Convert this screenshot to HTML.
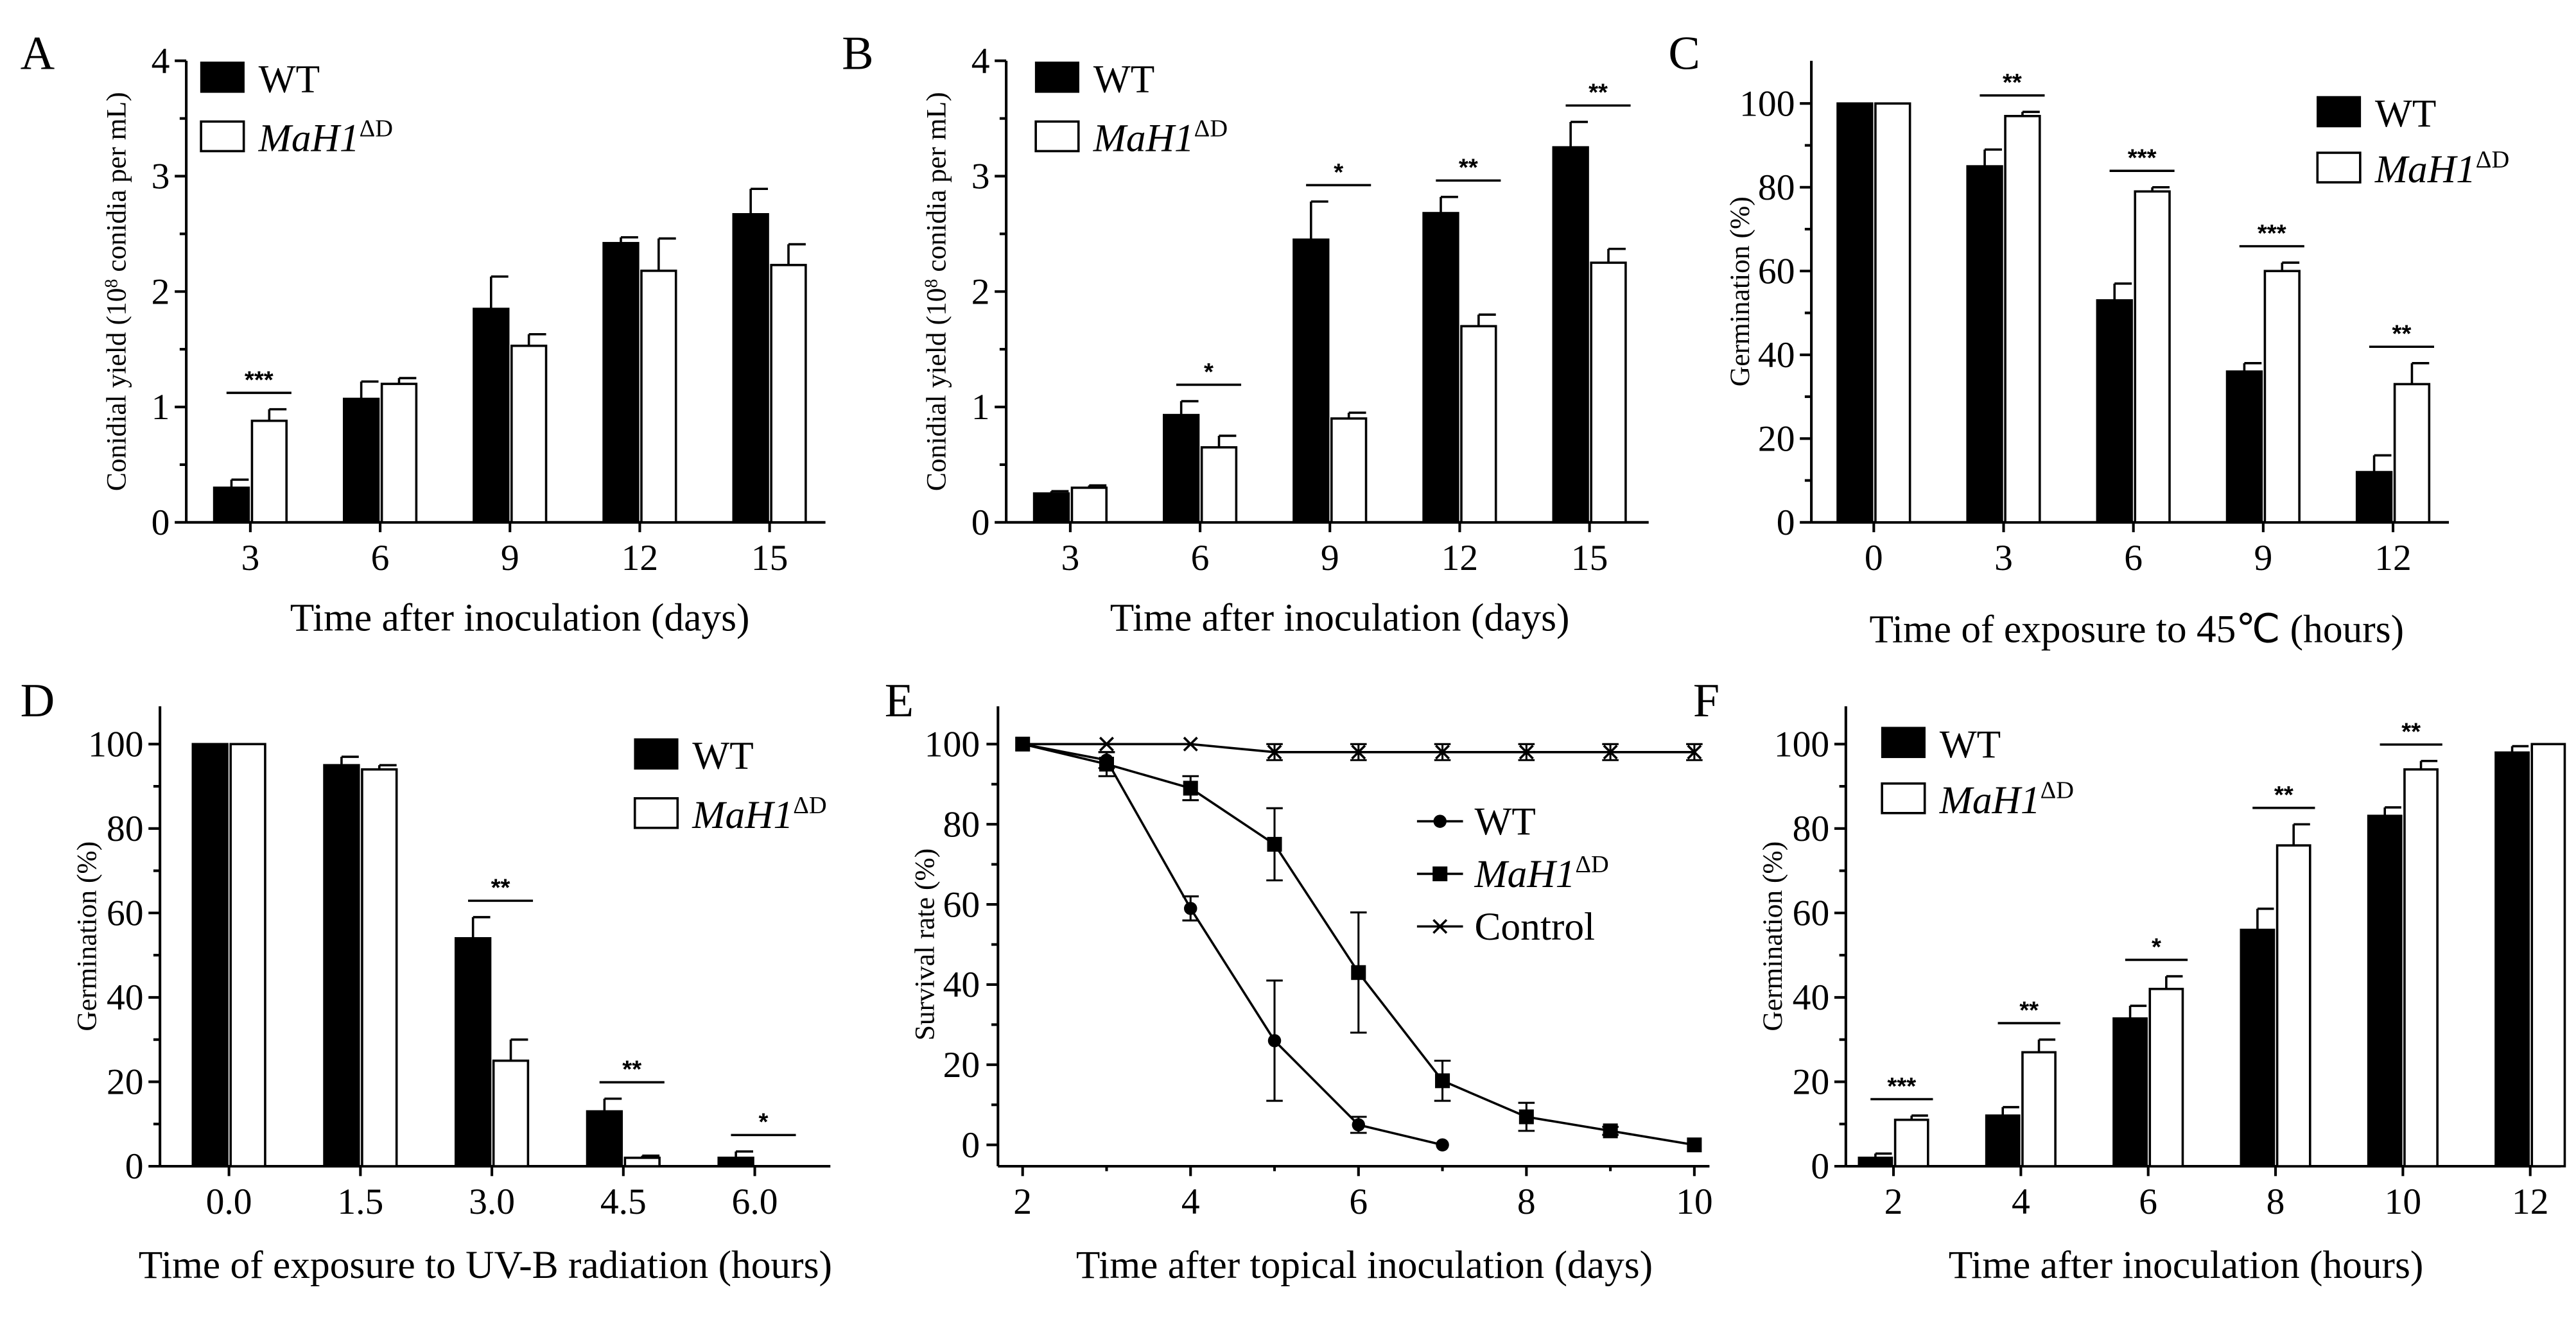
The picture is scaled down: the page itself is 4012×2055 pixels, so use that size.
<!DOCTYPE html>
<html><head><meta charset="utf-8"><style>
html,body{margin:0;padding:0;background:#fff}
svg{display:block}
text{fill:#000}
.t{font-family:"Liberation Serif",serif;font-size:22.5px}
.xt{font-family:"Liberation Serif",serif;font-size:24px}
.yt{font-family:"Liberation Serif",serif;font-size:17px}
.pl{font-family:"Liberation Serif",serif;font-size:29px}
.lg{font-family:"Liberation Serif",serif;font-size:24px}
.st{font-family:"Liberation Sans",sans-serif;font-size:15px;font-weight:bold}
</style></head><body>
<svg id="fig" width="4012" height="2055" viewBox="0 0 1567 803" xmlns="http://www.w3.org/2000/svg"></svg>
<script>
// Panel A
const aCats=["3","6","9","12","15"];
const aWT=[0.3,1.07,1.85,2.42,2.67];
const aWTe=[0.07,0.15,0.28,0.05,0.22];
const aMu=[0.88,1.2,1.53,2.18,2.23];
const aMue=[0.1,0.05,0.1,0.28,0.18];
const aSig=["***","","","",""];
const aTicks=[0,1,2,3,4];
// Panel B
const bCats=["3","6","9","12","15"];
const bWT=[0.25,0.93,2.45,2.68,3.25];
const bWTe=[0.02,0.12,0.33,0.14,0.22];
const bMu=[0.3,0.65,0.9,1.7,2.25];
const bMue=[0.02,0.1,0.05,0.1,0.12];
const bSig=["","*","*","**","**"];
// Panel C
const cCats=["0","3","6","9","12"];
const cWT=[100,85,53,36,12];
const cWTe=[0,4,4,2,4];
const cMu=[100,97,79,60,33];
const cMue=[0,1,1,2,5];
const cSig=["","**","***","***","**"];
const pctTicks=[0,20,40,60,80,100];
// Panel D
const dCats=["0.0","1.5","3.0","4.5","6.0"];
const dWT=[100,95,54,13,2];
const dWTe=[0,2,5,3,1.5];
const dMu=[100,94,25,2,0];
const dMue=[0,1,5,0.5,0];
const dSig=["","","**","**","*"];
// Panel E
const eX=[2,3,4,5,6,7,8,9,10];
const eWT=[100,96,59,26,5,0];
const eWTe=[0,2,3,15,2,0];
const eMu=[100,95,89,75,43,16,7,3.5,0];
const eMue=[0,3,3,9,15,5,3.5,1,0];
const eCtl=[100,100,100,98,98,98,98,98,98];
const eCtle=[0,0,0,2,2,2,2,2,2];
const eXTicks=[2,4,6,8,10];
// Panel F
const fCats=["2","4","6","8","10","12"];
const fWT=[2,12,35,56,83,98];
const fWTe=[1,2,3,5,2,1.5];
const fMu=[11,27,42,76,94,100];
const fMue=[1,3,3,5,2,0];
const fSig=["***","**","*","**","**",""];

const S=document.getElementById('fig');
const NS="http://www.w3.org/2000/svg";
function el(tag,at,parent,txt){const e=document.createElementNS(NS,tag);for(const k in at)e.setAttribute(k,at[k]);if(txt!==undefined)e.textContent=txt;(parent||S).appendChild(e);return e;}
function line(g,x1,y1,x2,y2,w){return el('line',{x1,y1,x2,y2,stroke:'#000','stroke-width':w||1.6},g);}
function legendMu(g,x,y){const t=el('text',{x,y,class:'lg'},g);el('tspan',{'font-style':'italic'},t,'MaH1');el('tspan',{dy:-9,'font-size':15},t,'ΔD');return t;}

function barPanel(o){
  const g=el('g',{});
  
  
  const y=v=>o.y0-(v/o.ymax)*(o.y0-o.y1);
  const xc=i=>o.xs+i*o.dx;
  line(g,o.x0,o.y0,o.x0,o.ytop);
  line(g,o.x0,o.y0,o.x1,o.y0);
  o.ticks.forEach((t,k)=>{line(g,o.x0-7,y(t),o.x0,y(t));
    if(k<o.ticks.length-1){const m=(t+o.ticks[k+1])/2;line(g,o.x0-4,y(m),o.x0,y(m));}
    const tt=el('text',{x:o.x0-10,y:y(t)+7.5,class:'t','text-anchor':'end'},g,t);});
  o.cats.forEach((c,i)=>{line(g,xc(i),o.y0,xc(i),o.y0+6);const tt=el('text',{x:xc(i),y:o.y0+29,class:'t','text-anchor':'middle'},g,c);});
  const bw=o.bw;
  o.cats.forEach((c,i)=>{
    const r1=el('rect',{x:xc(i)-bw-1,y:y(o.wt[i]),width:bw,height:o.y0-y(o.wt[i]),fill:'#000',stroke:'#000','stroke-width':1.4},g);
    
    const r2=el('rect',{x:xc(i)+1,y:y(o.mu[i]),width:bw,height:o.y0-y(o.mu[i]),fill:'#fff',stroke:'#000','stroke-width':1.4},g);
    
    if(o.wte[i]>0){const cx=xc(i)-bw/2-1;line(g,cx,y(o.wt[i]),cx,y(o.wt[i]+o.wte[i]),1.4);line(g,cx,y(o.wt[i]+o.wte[i]),cx+bw/2,y(o.wt[i]+o.wte[i]),1.4);}
    if(o.mue[i]>0){const cx=xc(i)+bw/2+1;line(g,cx,y(o.mu[i]),cx,y(o.mu[i]+o.mue[i]),1.4);line(g,cx,y(o.mu[i]+o.mue[i]),cx+bw/2,y(o.mu[i]+o.mue[i]),1.4);}
    if(o.sig[i]){const top=Math.max(o.wt[i]+o.wte[i],o.mu[i]+o.mue[i]);const ly=y(top)-10;
      line(g,xc(i)-bw/2-4,ly,xc(i)+bw+4,ly,1.4);
      const st=el('text',{x:xc(i)+bw/4,y:ly-3,class:'st','text-anchor':'middle'},g,o.sig[i]);}
  });
  const pl=el('text',{x:o.lx,y:o.ly,class:'pl'},g,o.letter);
  const xt=el('text',{x:o.xtx,y:o.xty,class:'xt','text-anchor':'middle'},g,o.xtitle);
  const ytg=el('text',{x:0,y:0,class:'yt','text-anchor':'middle',transform:`translate(${o.ytx},${(o.y0+o.ytop)/2}) rotate(-90)`},g);
  
  if(o.ysup){el('tspan',{},ytg,'Conidial yield (10');el('tspan',{dy:-5,'font-size':11},ytg,'8');el('tspan',{dy:5},ytg,' conidia per mL)');}
  else ytg.textContent='Germination (%)';
  const L=o.leg;
  const lg=el('g',{},g);
  el('rect',{x:L.x,y:L.y-14,width:26,height:18,fill:'#000',stroke:'#000'},lg);
  el('text',{x:L.x+35,y:L.y+4,class:'lg'},lg,'WT');
  el('rect',{x:L.x,y:L.y+L.gap-14,width:26,height:18,fill:'#fff',stroke:'#000','stroke-width':1.4},lg);
  legendMu(lg,L.x+35,L.y+L.gap+4);
}

barPanel({name:'panel-a',letter:'A',lx:12,ly:42,x0:113,x1:502,y0:318,y1:37,ytop:37,ymax:4,ticks:aTicks,xs:152,dx:79,bw:21,cats:aCats,wt:aWT,wte:aWTe,mu:aMu,mue:aMue,sig:aSig,xtitle:'Time after inoculation (days)',xtx:316,xty:384,ytx:76,ysup:true,leg:{x:122,y:52,gap:36}});
barPanel({name:'panel-b',letter:'B',lx:512,ly:42,x0:612,x1:1003,y0:318,y1:37,ytop:37,ymax:4,ticks:aTicks,xs:651,dx:79,bw:21,cats:bCats,wt:bWT,wte:bWTe,mu:bMu,mue:bMue,sig:bSig,xtitle:'Time after inoculation (days)',xtx:815,xty:384,ytx:575,ysup:true,leg:{x:630,y:52,gap:36}});
barPanel({name:'panel-c',letter:'C',lx:1015,ly:42,x0:1102,x1:1490,y0:318,y1:63,ytop:37,ymax:100,ticks:pctTicks,xs:1140,dx:79,bw:21,cats:cCats,wt:cWT,wte:cWTe,mu:cMu,mue:cMue,sig:cSig,xtitle:'Time of exposure to 45℃ (hours)',xtx:1300,xty:391,ytx:1064,ysup:false,leg:{x:1410,y:73,gap:34}});
barPanel({name:'panel-d',letter:'D',lx:12,ly:436,x0:97,x1:505,y0:710,y1:453,ytop:430,ymax:100,ticks:pctTicks,xs:139,dx:80,bw:21,cats:dCats,wt:dWT,wte:dWTe,mu:dMu,mue:dMue,sig:dSig,xtitle:'Time of exposure to UV-B radiation (hours)',xtx:295,xty:778,ytx:58,ysup:false,leg:{x:386,y:464,gap:36}});
barPanel({name:'panel-f',letter:'F',lx:1030,ly:436,x0:1123,x1:1558,y0:710,y1:453,ytop:430,ymax:100,ticks:pctTicks,xs:1152,dx:77.5,bw:20,cats:fCats,wt:fWT,wte:fWTe,mu:fMu,mue:fMue,sig:fSig,xtitle:'Time after inoculation (hours)',xtx:1330,xty:778,ytx:1084,ysup:false,leg:{x:1145,y:457,gap:34}});

(function(){
  const g=el('g',{});
  const X=v=>622+(v-2)*51.1, Y=v=>697-v*2.44;
  line(g,607,710,607,430);line(g,607,710,1040,710);
  pctTicks.forEach((t,k)=>{line(g,600,Y(t),607,Y(t));
    if(k<pctTicks.length-1)line(g,603,Y(t+10),607,Y(t+10));
    const tt=el('text',{x:596,y:Y(t)+7.5,class:'t','text-anchor':'end'},g,t);});
  eX.forEach(v=>line(g,X(v),710,X(v),eXTicks.includes(v)?716:713));
  eXTicks.forEach(v=>{const tt=el('text',{x:X(v),y:739,class:'t','text-anchor':'middle'},g,v);});
  function series(vals,errs,kind,nm){
    const sg=el('g',{},g);
    el('polyline',{points:vals.map((v,i)=>X(eX[i])+','+Y(v)).join(' '),fill:'none',stroke:'#000','stroke-width':1.4},sg);
    vals.forEach((v,i)=>{const x=X(eX[i]),y=Y(v);
      if(errs[i]>0){line(sg,x,Y(v-errs[i]),x,Y(v+errs[i]),1.2);line(sg,x-5,Y(v+errs[i]),x+5,Y(v+errs[i]),1.2);line(sg,x-5,Y(v-errs[i]),x+5,Y(v-errs[i]),1.2);}
      let m;
      if(kind==='c')m=el('circle',{cx:x,cy:y,r:4,fill:'#000'},sg);
      else if(kind==='s')m=el('rect',{x:x-4.5,y:y-4.5,width:9,height:9,fill:'#000'},sg);
      else{m=el('path',{d:`M${x-4},${y-4}L${x+4},${y+4}M${x-4},${y+4}L${x+4},${y-4}`,stroke:'#000','stroke-width':1.4},sg);}
      
    });
  }
  series(eCtl,eCtle,'x','series-control');
  series(eMu,eMue,'s','series-mutant');
  series(eWT,eWTe,'c','series-wt');
  const lg=el('g',{},g);
  line(lg,862,500,890,500,1.4);el('circle',{cx:876,cy:500,r:4},lg);
  el('text',{x:897,y:508,class:'lg'},lg,'WT');
  line(lg,862,532,890,532,1.4);el('rect',{x:871.5,y:527.5,width:9,height:9},lg);
  legendMu(lg,897,540);
  line(lg,862,564,890,564,1.4);el('path',{d:'M872,560L880,568M872,568L880,560',stroke:'#000','stroke-width':1.4},lg);
  el('text',{x:897,y:572,class:'lg'},lg,'Control');
  const pl=el('text',{x:538,y:436,class:'pl'},g,'E');
  const xt=el('text',{x:830,y:778,class:'xt','text-anchor':'middle'},g,'Time after topical inoculation (days)');
  const yt=el('text',{x:0,y:0,class:'yt','text-anchor':'middle',transform:'translate(568,575) rotate(-90)'},g,'Survival rate (%)');
})();
</script>
</body></html>
